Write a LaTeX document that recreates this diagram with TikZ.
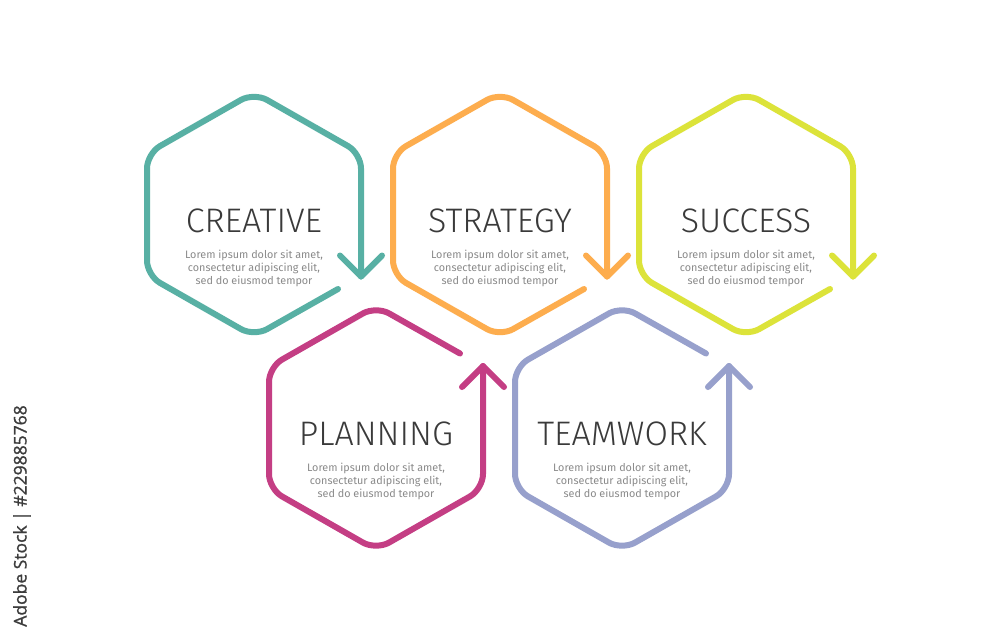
\documentclass[tikz,border=0pt]{standalone}
\usepackage{fontspec}
\setmainfont{Fira Sans}
\IfFontExistsTF{Fira Sans Light}{\newfontfamily\hxtitlefont{Fira Sans Light}}{%
  \IfFontExistsTF{Lato Light}{\newfontfamily\hxtitlefont{Lato Light}}{\newfontfamily\hxtitlefont{Fira Sans}}}
\newfontfamily\hxmarkfont{Open Sans}[FakeBold=1.2]
\definecolor{cteal}{HTML}{58B0A4}
\definecolor{corange}{HTML}{FDAD4E}
\definecolor{cyellow}{HTML}{DCE33A}
\definecolor{cmagenta}{HTML}{C43E84}
\definecolor{clavender}{HTML}{97A0CC}
\definecolor{ctitle}{HTML}{3A3A3A}
\definecolor{cbody}{HTML}{8A8A8A}
\definecolor{cmark}{HTML}{3C3C3C}
\tikzset{
  hexline/.style={line width=6pt, line cap=round, line join=round, rounded corners=15pt},
  arrowline/.style={line width=6pt, line cap=round, line join=round},
  hxtitle/.style={font=\hxtitlefont\fontsize{34}{36}\selectfont, text=ctitle, anchor=base, inner sep=0pt},
  hxbody/.style={font=\fontsize{10.8}{13}\selectfont, text=cbody, anchor=base, inner sep=0pt}
}
\newcommand\hxlabels[2]{%
  \node[hxtitle] (#1-t) at (0,17.5) {#2};
  \node[hxbody] (#1-a) at (0,43.5) {Lorem ipsum dolor sit amet,};
  \node[hxbody] (#1-b) at (0,56.5) {consectetur adipiscing elit,};
  \node[hxbody] (#1-c) at (0,69.5) {sed do eiusmod tempor};
}
\newcommand\hexdown[5]{%
  \begin{scope}[shift={(#1,#2)}]
    \draw[hexline,#3] (84,74.5) -- (0,122) -- (-107,61) -- (-107,-61) -- (0,-122) -- (107,-61) -- (107,62);
    \draw[arrowline,#3] (86,41) -- (107,62) -- (128,41);
    \hxlabels{#4}{#5}
  \end{scope}}
\newcommand\hexup[5]{%
  \begin{scope}[shift={(#1,#2)}]
    \draw[hexline,#3] (84,-74.5) -- (0,-122) -- (-107,-61) -- (-107,61) -- (0,122) -- (107,61) -- (107,-62);
    \draw[arrowline,#3] (86,-41) -- (107,-62) -- (128,-41);
    \hxlabels{#4}{#5}
  \end{scope}}
\begin{document}
\begin{tikzpicture}[x=1pt,y=-1pt]
  \fill[white] (0,0) rectangle (1000,643);
  \useasboundingbox (0,0) rectangle (1000,643);
  \hexdown{254}{214.5}{cteal}{creative}{CREATIVE}
  \hexdown{500}{214.5}{corange}{strategy}{STRATEGY}
  \hexdown{746}{214.5}{cyellow}{success}{SUCCESS}
  \hexup{376}{428}{cmagenta}{planning}{PLANNING}
  \hexup{622}{428}{clavender}{teamwork}{TEAMWORK}
  \node[rotate=90, font=\hxmarkfont\fontsize{17.5}{19}\selectfont, text=cmark, inner sep=0pt] (mark) at (22,516) {Adobe Stock | \#229885768};
\end{tikzpicture}
\end{document}
